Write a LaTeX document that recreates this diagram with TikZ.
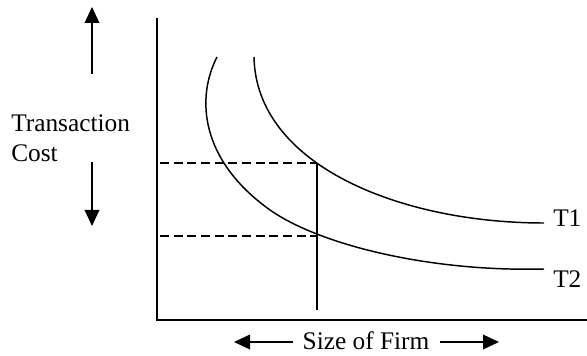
\documentclass[tikz,border=0pt]{standalone}
\usepackage{fontspec}
\setmainfont{Liberation Serif}
\usetikzlibrary{arrows.meta}
\begin{document}
\begin{tikzpicture}[x=0.75pt,y=-0.75pt,
  axis/.style={line width=1.2pt},
  curve/.style={line width=1.1pt},
  guide/.style={line width=1.0pt, dash pattern=on 6.75pt off 3.5pt},
  dirarrow/.style={line width=1.0pt, -{Triangle[length=12pt,width=11pt]}},
  lbl/.style={inner sep=0pt, anchor=base west, font=\fontsize{19pt}{23pt}\selectfont}]
\useasboundingbox (0,0) rectangle (587,356);
% axes
\coordinate (origin) at (157,320);
\coordinate (ytop) at (157,18);
\coordinate (xend) at (587,320);
\draw[axis] (ytop) -- (origin) -- (xend);
% curves
\coordinate (t1s) at (254,57);
\coordinate (t1e) at (544,223);
\draw[curve] (t1s) .. controls (256,165) and (400,223) .. (t1e);
\coordinate (t2s) at (217,57);
\coordinate (t2m) at (270,210);
\coordinate (t2e) at (544,269);
\draw[curve] (t2s) .. controls (196,98) and (200,160) .. (t2m)
  .. controls (320,245) and (430,272) .. (t2e);
% guides
\coordinate (d1a) at (160,163);
\coordinate (d1b) at (317,163);
\coordinate (d2a) at (160,236);
\coordinate (d2b) at (317,236);
\coordinate (vbot) at (317,310);
\draw[guide] (d1a) -- (d1b);
\draw[guide] (d2a) -- (d2b);
\draw[curve] (d1b) -- (vbot);
% labels
\node[lbl] (tc1) at (11,132) {Transaction};
\node[lbl] (tc2) at (11,162) {Cost};
\node[lbl] (t1) at (553,227) {T1};
\node[lbl] (t2) at (553,288) {T2};
\node[lbl, anchor=base] (size) at (366,350) {Size of Firm};
% direction arrows
\coordinate (ua) at (92,74);
\coordinate (ub) at (92,7);
\coordinate (da) at (92,162);
\coordinate (db) at (92,226);
\draw[dirarrow] (ua) -- (ub);
\draw[dirarrow] (da) -- (db);
\coordinate (la) at (293,342);
\coordinate (lb) at (234,342);
\coordinate (ra) at (440,342);
\coordinate (rb) at (499,342);
\draw[dirarrow] (la) -- (lb);
\draw[dirarrow] (ra) -- (rb);
\end{tikzpicture}
\end{document}
